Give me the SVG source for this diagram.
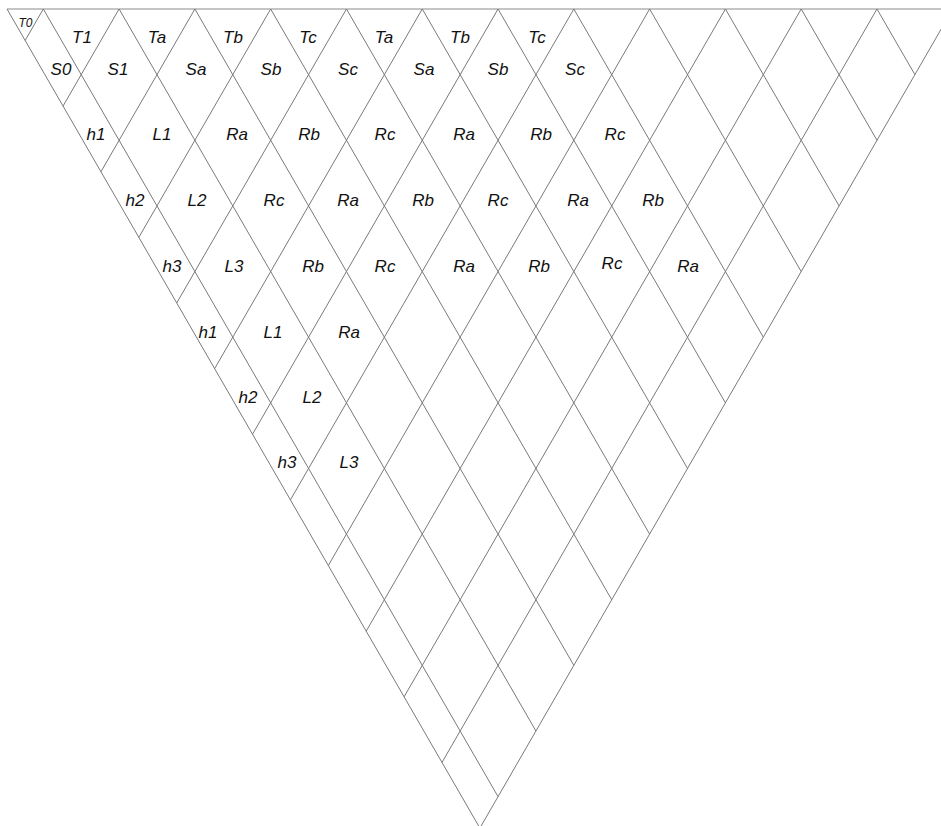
<svg xmlns="http://www.w3.org/2000/svg" width="941" height="826" viewBox="0 0 941 826">
<style>
.ln{stroke:#7a7a7a;stroke-width:1;fill:none}
.top{stroke:#8a8a8a;stroke-width:1;fill:none}
text{font-family:"Liberation Sans",Arial,sans-serif;font-style:italic;font-size:17px;fill:#111;text-anchor:middle}
.sm{font-size:12px}
</style>
<rect width="941" height="826" fill="#fff"/>
<g id="grid">
<line class="top" x1="7" y1="9" x2="952.78" y2="9"/>
<line class="ln" x1="7" y1="9" x2="479.89" y2="828.07"/>
<line class="ln" x1="952.78" y1="9" x2="479.89" y2="828.07"/>
<line class="ln" x1="43.3" y1="9" x2="25.15" y2="40.44"/>
<line class="ln" x1="119.09" y1="9" x2="63.05" y2="106.07"/>
<line class="ln" x1="194.88" y1="9" x2="100.94" y2="171.71"/>
<line class="ln" x1="270.67" y1="9" x2="138.84" y2="237.34"/>
<line class="ln" x1="346.46" y1="9" x2="176.73" y2="302.98"/>
<line class="ln" x1="422.25" y1="9" x2="214.63" y2="368.62"/>
<line class="ln" x1="498.04" y1="9" x2="252.52" y2="434.25"/>
<line class="ln" x1="573.83" y1="9" x2="290.42" y2="499.89"/>
<line class="ln" x1="649.62" y1="9" x2="328.31" y2="565.53"/>
<line class="ln" x1="725.41" y1="9" x2="366.21" y2="631.17"/>
<line class="ln" x1="801.2" y1="9" x2="404.1" y2="696.8"/>
<line class="ln" x1="876.99" y1="9" x2="442" y2="762.43"/>
<line class="ln" x1="43.3" y1="9" x2="498.04" y2="796.63"/>
<line class="ln" x1="119.09" y1="9" x2="535.94" y2="731"/>
<line class="ln" x1="194.88" y1="9" x2="573.83" y2="665.37"/>
<line class="ln" x1="270.67" y1="9" x2="611.73" y2="599.73"/>
<line class="ln" x1="346.46" y1="9" x2="649.62" y2="534.09"/>
<line class="ln" x1="422.25" y1="9" x2="687.52" y2="468.45"/>
<line class="ln" x1="498.04" y1="9" x2="725.41" y2="402.82"/>
<line class="ln" x1="573.83" y1="9" x2="763.31" y2="337.18"/>
<line class="ln" x1="649.62" y1="9" x2="801.2" y2="271.54"/>
<line class="ln" x1="725.41" y1="9" x2="839.1" y2="205.91"/>
<line class="ln" x1="801.2" y1="9" x2="876.99" y2="140.27"/>
<line class="ln" x1="876.99" y1="9" x2="914.89" y2="74.64"/>
</g>
<g id="labels">
<g id="n-T0"><text class="sm" x="25.5" y="26.5">T0</text></g>
<g id="n-T1"><text x="82" y="42.5">T1</text></g>
<g id="n-Ta1"><text x="157" y="42.5">Ta</text></g>
<g id="n-Tb1"><text x="233" y="42.5">Tb</text></g>
<g id="n-Tc1"><text x="308" y="42.5">Tc</text></g>
<g id="n-Ta2"><text x="384" y="42.5">Ta</text></g>
<g id="n-Tb2"><text x="460" y="42.5">Tb</text></g>
<g id="n-Tc2"><text x="537" y="42.5">Tc</text></g>
<g id="n-S0"><text x="61" y="75">S0</text></g>
<g id="n-S1"><text x="118" y="75">S1</text></g>
<g id="n-Sa1"><text x="196" y="75">Sa</text></g>
<g id="n-Sb1"><text x="271" y="75">Sb</text></g>
<g id="n-Sc1"><text x="348" y="75">Sc</text></g>
<g id="n-Sa2"><text x="424" y="75">Sa</text></g>
<g id="n-Sb2"><text x="498" y="75">Sb</text></g>
<g id="n-Sc2"><text x="575" y="75">Sc</text></g>
<g id="n-h1a"><text x="96" y="140">h1</text></g>
<g id="n-L1a"><text x="162" y="140">L1</text></g>
<g id="n-r3a"><text x="237" y="140">Ra</text></g>
<g id="n-r3b"><text x="309" y="140">Rb</text></g>
<g id="n-r3c"><text x="385" y="140">Rc</text></g>
<g id="n-r3d"><text x="464" y="140">Ra</text></g>
<g id="n-r3e"><text x="541" y="140">Rb</text></g>
<g id="n-r3f"><text x="615" y="140">Rc</text></g>
<g id="n-h2a"><text x="135" y="206">h2</text></g>
<g id="n-L2a"><text x="197" y="206">L2</text></g>
<g id="n-r4a"><text x="274" y="206">Rc</text></g>
<g id="n-r4b"><text x="348" y="206">Ra</text></g>
<g id="n-r4c"><text x="423" y="206">Rb</text></g>
<g id="n-r4d"><text x="498" y="206">Rc</text></g>
<g id="n-r4e"><text x="578" y="206">Ra</text></g>
<g id="n-r4f"><text x="653" y="206">Rb</text></g>
<g id="n-h3a"><text x="172" y="271.5">h3</text></g>
<g id="n-L3a"><text x="234" y="271.5">L3</text></g>
<g id="n-r5a"><text x="313" y="271.5">Rb</text></g>
<g id="n-r5b"><text x="385" y="271.5">Rc</text></g>
<g id="n-r5c"><text x="464" y="271.5">Ra</text></g>
<g id="n-r5d"><text x="539" y="271.5">Rb</text></g>
<g id="n-r5e"><text x="612" y="269">Rc</text></g>
<g id="n-r5f"><text x="688" y="272">Ra</text></g>
<g id="n-h1b"><text x="208" y="337.5">h1</text></g>
<g id="n-L1b"><text x="273" y="337.5">L1</text></g>
<g id="n-r6a"><text x="349" y="337.5">Ra</text></g>
<g id="n-h2b"><text x="248" y="402.7">h2</text></g>
<g id="n-L2b"><text x="312" y="402.7">L2</text></g>
<g id="n-h3b"><text x="287" y="468">h3</text></g>
<g id="n-L3b"><text x="349" y="468">L3</text></g>
</g>
</svg>
